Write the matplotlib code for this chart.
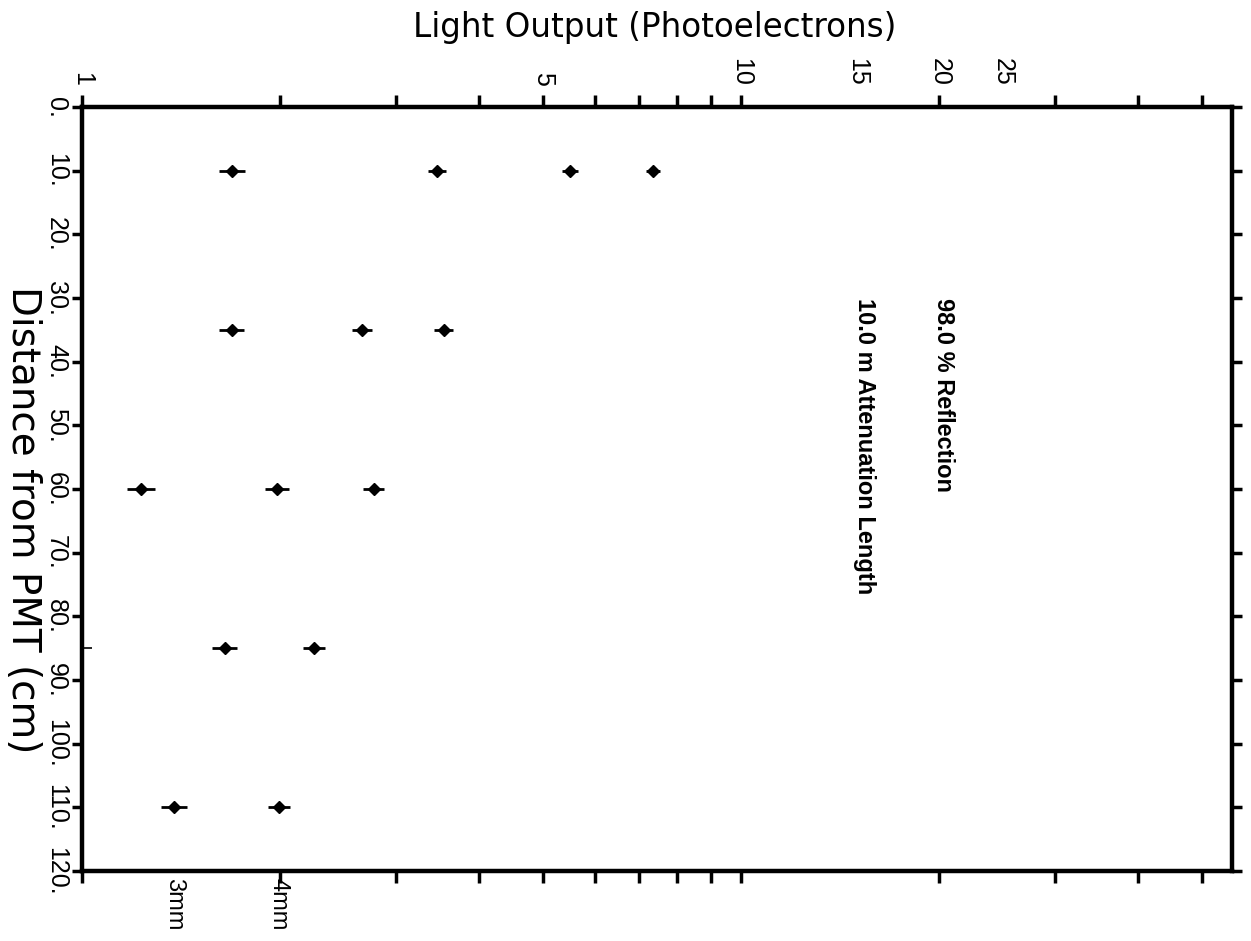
import matplotlib
matplotlib.use("Agg")
import matplotlib.pyplot as plt

# distance from PMT (cm) and measured light output (photoelectrons)
distance = [10, 10, 10, 10, 35, 35, 35, 60, 60, 60, 85, 85, 110, 110]
light = [1.69, 3.46, 5.50, 7.35, 1.69, 2.66, 3.54, 1.23, 1.98, 2.77, 1.65, 2.25, 1.38, 1.99]
light_err = [0.075, 0.112, 0.15, 0.18, 0.074, 0.093, 0.118, 0.060, 0.081, 0.102, 0.072, 0.086, 0.063, 0.076]

x_ticks = [1, 2, 3, 4, 5, 6, 7, 8, 9, 10, 20, 30, 40, 50]
x_labels = ['1', '', '', '', '5', '', '', '', '', '10', '20', '', '', '']
x_extra = [15, 25]
y_ticks = list(range(0, 130, 10))
y_labels = [f'{v}.' for v in y_ticks]

thick_labels = ['3mm', '4mm']
thick_x = [1.38, 1.99]

fig = plt.figure(figsize=(12.51, 9.41), dpi=100)
ax = fig.add_axes([0.0655, 0.0744, 0.9193, 0.8119])

ax.errorbar(light, distance, xerr=light_err, fmt='D', ms=6, color='black',
            elinewidth=2.0, capsize=0)

ax.set_xscale('log')
ax.set_xlim(1, 55.6)
ax.set_ylim(120, 0)

ax.set_xticks(x_ticks)
ax.set_xticklabels(x_labels)
ax.set_xticks(x_extra, minor=True)
ax.set_xticklabels([str(v) for v in x_extra], minor=True)
ax.tick_params(axis='x', which='major', top=True, bottom=True, labeltop=True,
               labelbottom=False, direction='out', length=8.5, width=2.5, pad=7,
               labelrotation=-90, labelsize=18)
ax.tick_params(axis='x', which='minor', top=True, bottom=False, labeltop=True,
               labelbottom=False, length=0, pad=15.5, labelrotation=-90, labelsize=18)
for lab in ax.get_xticklabels(which='both'):
    lab.set_fontfamily('Liberation Sans')

ax.set_yticks(y_ticks)
ax.set_yticklabels(y_labels)
ax.set_yticks([85], minor=True)
ax.tick_params(axis='y', which='major', left=True, right=True, labelleft=True,
               labelright=False, direction='out', length=7, width=2.5, pad=3,
               labelrotation=-90, labelsize=18)
ax.tick_params(axis='y', which='minor', left=True, right=False, direction='in',
               length=7, width=1.2)
for lab in ax.get_yticklabels():
    lab.set_fontfamily('Liberation Sans')
    lab.set_va('center')

for s in ax.spines.values():
    s.set_linewidth(3.2)

ax.text(20.3, 30, '98.0 % Reflection', rotation=-90, ha='center', va='top',
        fontsize=17, fontweight='bold', family='Liberation Sans')
ax.text(15.4, 30, '10.0 m Attenuation Length', rotation=-90, ha='center', va='top',
        fontsize=17, fontweight='bold', family='Liberation Sans')

for lab, xv in zip(thick_labels, thick_x):
    ax.annotate(lab, xy=(xv, 0), xycoords=('data', 'axes fraction'),
                xytext=(0, -5), textcoords='offset points', rotation=-90,
                ha='center', va='top', fontsize=17, family='Liberation Sans')

fig.text(655 / 1251, 1 - 28 / 941, 'Light Output (Photoelectrons)',
         ha='center', va='center', fontsize=23.5)
fig.text(23 / 1251, 1 - 520 / 941, 'Distance from PMT (cm)', rotation=-90,
         ha='center', va='center', fontsize=28)

fig.savefig('out.png', dpi=100)
